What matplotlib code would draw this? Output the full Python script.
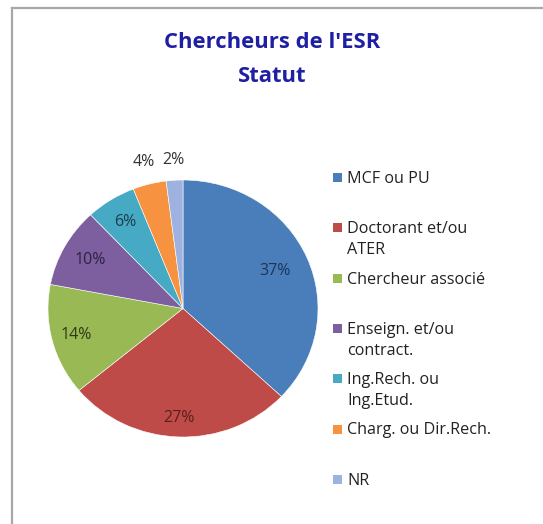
import matplotlib.pyplot as plt
import numpy as np
from matplotlib.patches import Rectangle
from matplotlib.lines import Line2D

statuts = ["MCF ou PU", "Doctorant et/ou\nATER", "Chercheur associé",
           "Enseign. et/ou\ncontract.", "Ing.Rech. ou\nIng.Etud.",
           "Charg. ou Dir.Rech.", "NR"]
parts = [37, 27, 14, 10, 6, 4, 2]
couleurs = ["#4A7EBB", "#BE4B48", "#98B954", "#7D5FA0", "#46AAC5", "#F69240", "#9DB2DE"]
couleurs_txt = ["#1F3457", "#5A1F1E", "#2E3A16", "#2E2140", "#1B3F4A", "#333333", "#333333"]
dist_txt = [0.74, 0.85, 0.82, 0.78, 0.80, 1.18, 1.16]

W, H = 543, 524
fig = plt.figure(figsize=(W / 100, H / 100), dpi=100)
plt.rcParams['font.family'] = ['Open Sans', 'DejaVu Sans']

# cadre (bords gauche et haut seulement)
fig.add_artist(Line2D([12 / W, 12 / W], [0, 1 - 8 / H], color="#A8A8A8", lw=1.6))
fig.add_artist(Line2D([12 / W, 1], [1 - 8 / H, 1 - 8 / H], color="#A8A8A8", lw=1.6))

fig.text(272 / W, 1 - 43 / H, "Chercheurs de l'ESR", ha="center", va="center",
         fontsize=15.8, fontweight="bold", color="#1F1FA3")
fig.text(272 / W, 1 - 76 / H, "Statut", ha="center", va="center",
         fontsize=15.8, fontweight="bold", color="#1F1FA3")

# camembert (légèrement elliptique comme la capture)
x0, x1, y0, y1 = 48, 318, 180, 437
ax = fig.add_axes([x0 / W, 1 - y1 / H, (x1 - x0) / W, (y1 - y0) / H])
wedges, _ = ax.pie(parts, colors=couleurs, startangle=90, counterclock=False,
                   wedgeprops=dict(edgecolor="white", linewidth=0.4))
ax.set_aspect("auto")
ax.set_xlim(-1, 1)
ax.set_ylim(-1, 1)
for w, p, d, c in zip(wedges, parts, dist_txt, couleurs_txt):
    a = np.deg2rad((w.theta1 + w.theta2) / 2)
    ax.text(d * np.cos(a), d * np.sin(a), f"{p}%", ha="center", va="center",
            fontsize=11.5, color=c, clip_on=False)

# légende
for i, (lab, col) in enumerate(zip(statuts, couleurs)):
    y = 178 + i * 50.3
    fig.add_artist(Rectangle((333 / W, 1 - (y + 4) / H), 9 / W, 9 / H,
                             facecolor=col, edgecolor="none"))
    fig.text(347 / W, 1 - (y - 7) / H, lab, ha="left", va="top", fontsize=11.6,
             color="#222222", linespacing=1.4)

fig.savefig("out.png", dpi=100)
